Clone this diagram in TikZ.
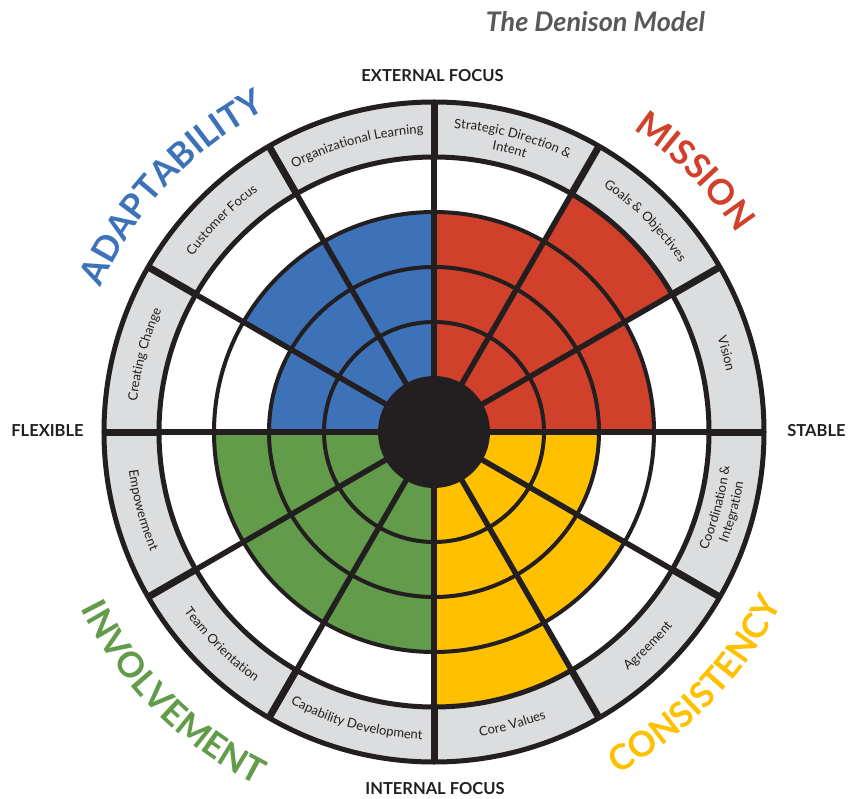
\documentclass[tikz,border=0pt]{standalone}
\usepackage{fontspec}
\setmainfont{Lato}
\usepackage{tikz}
\usetikzlibrary{decorations.text}

\definecolor{mission}{HTML}{D0402A}
\definecolor{adapt}{HTML}{3D72B9}
\definecolor{involve}{HTML}{629B4A}
\definecolor{consist}{HTML}{FFC000}
\definecolor{ringgray}{HTML}{DCDDDE}
\definecolor{ink}{HTML}{231F20}
\definecolor{titlegray}{HTML}{58595B}

\newcommand{\ringfont}{\fontsize{13}{15}\selectfont\color{ink}}
\newcommand{\catfont}{\bfseries\fontsize{35}{38}\selectfont}

% curved text: start angle, end angle, radius, text
\newcommand{\ringlabel}[4]{%
  \path[decorate, decoration={text along path, text align=center,
    text={|\ringfont|#4}}] (#1:#3pt) arc[start angle=#1, end angle=#2, radius=#3pt];}
\newcommand{\catlabel}[5]{%
  \path[decorate, decoration={text along path, text align=center,
    text={|\catfont\color{#4}|#5}}] (#1:#3pt) arc[start angle=#1, end angle=#2, radius=#3pt];}

\tikzset{
  ring/.style={draw=ink, line width=4pt},
  spoke/.style={draw=ink, line width=5.5pt},
  rimspoke/.style={draw=ink, line width=7pt},
  axislabel/.style={font=\bfseries\fontsize{16.5}{18}\selectfont, text=ink, inner sep=0pt},
}

\begin{document}
\begin{tikzpicture}[x=1pt, y=1pt]
\useasboundingbox (-434,-366) rectangle (425,432);

% rim and empty field
\fill[ringgray] (0,0) circle[radius=331pt];
\fill[white] (0,0) circle[radius=275pt];

% scores
\foreach \a/\b/\rad/\col in {0/30/220/mission, 30/60/275/mission, 60/90/220/mission,
    90/120/220/adapt, 120/150/220/adapt, 150/180/165/adapt,
    180/210/220/involve, 210/240/220/involve, 240/270/220/involve,
    270/300/275/consist, 300/330/220/consist, 330/360/165/consist}
  \fill[\col] (0,0) -- (\a:\rad pt) arc[start angle=\a, end angle=\b, radius=\rad pt] -- cycle;

% rings and spokes
\foreach \rad in {110,165,220}
  \draw[ring] (0,0) circle[radius=\rad pt];
\draw[ring, line width=5pt] (0,0) circle[radius=275pt];
\draw[ring, line width=5pt] (0,0) circle[radius=330pt];
\foreach \a in {0,30,...,330} {
  \draw[spoke] (0,0) -- (\a:275pt);
  \draw[rimspoke] (\a:275pt) -- (\a:330pt);
}
\fill[ink] (0,0) circle[radius=56pt];

% rim labels
\ringlabel{30}{0}{298.5}{Vision}
\ringlabel{60}{30}{298.5}{Goals {\&} Objectives}
\ringlabel{90}{60}{304.5}{Strategic Direction {\&}}
\ringlabel{90}{60}{288.5}{Intent}
\ringlabel{120}{90}{298.5}{Organizational Learning}
\ringlabel{150}{120}{298.5}{Customer Focus}
\ringlabel{180}{150}{298.5}{Creating Change}
\ringlabel{180}{210}{307.5}{Empowerment}
\ringlabel{210}{240}{307.5}{Team Orientation}
\ringlabel{240}{270}{307.5}{Capability Development}
\ringlabel{270}{300}{307.5}{Core Values}
\ringlabel{300}{330}{307.5}{Agreement}
\ringlabel{330}{360}{297.5}{Coordination {\&}}
\ringlabel{330}{360}{313.5}{Integration}

% traits
\catlabel{85}{5}{362}{mission}{MISSION}
\catlabel{177}{97}{363}{adapt}{ADAPTABILITY}
\catlabel{-84}{-4}{388}{consist}{CONSISTENCY}
\catlabel{185}{265}{395}{involve}{INVOLVEMENT}

\node[axislabel] (external) at (-1.5,356) {EXTERNAL FOCUS};
\node[axislabel] (internal) at (1,-357) {INTERNAL FOCUS};
\node[axislabel] (flexible) at (-386.5,1) {FLEXIBLE};
\node[axislabel] (stable) at (382.5,1) {STABLE};
\node[font=\bfseries\itshape\fontsize{27}{30}\selectfont, text=titlegray, inner sep=0pt] (title) at (161.5,410) {The Denison Model};
\end{tikzpicture}
\end{document}
